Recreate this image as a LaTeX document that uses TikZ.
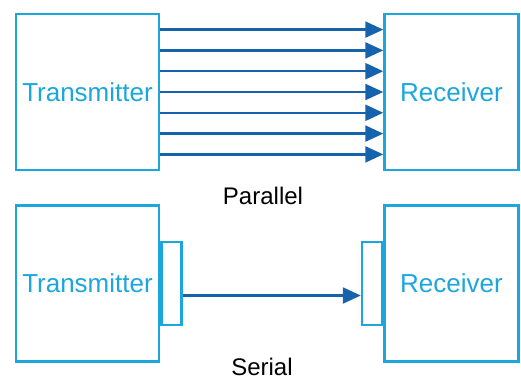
\documentclass[tikz,border=0pt]{standalone}
\usepackage{fontspec}
\setmainfont{Liberation Sans}
\usetikzlibrary{
  calc,positioning,
  arrows.meta
}
\definecolor{boxblue}{RGB}{27,166,222}
\definecolor{wireblue}{RGB}{22,98,172}

\begin{document}
\begin{tikzpicture}[x=1pt,y=-1pt,
  unit/.style={draw=boxblue,line width=2.5pt,text=boxblue,inner sep=0pt,
    font=\fontsize{26}{30}\selectfont,minimum width=143pt,minimum height=156pt},
  port/.style={draw=boxblue,line width=2.5pt,inner sep=0pt,
    minimum width=20pt,minimum height=83pt},
  wire/.style={wireblue,line width=2.4pt,-{Triangle[length=18pt,width=16pt]}},
  caption/.style={font=\fontsize{24}{28}\selectfont,inner sep=0pt}]
\useasboundingbox (0,0) rectangle (521,382);

% parallel
\node[unit] (ptx) at (87.5,92) {Transmitter};
\node[unit,minimum width=134pt] (prx) at (451.5,92) {Receiver};
\foreach \d in {-62.4,-41.6,-20.8,0,20.8,41.6,62.4}
  \draw[wire] ([yshift=\d pt]ptx.east) -- ([yshift=\d pt]prx.west);
\node[caption] (plabel) at (263,196) {Parallel};

% serial
\node[unit] (stx) at (87.5,283.5) {Transmitter};
\node[unit,minimum width=134pt] (srx) at (451.5,283.5) {Receiver};
\node[port,right=0pt of stx] (stxport) {};
\node[port,left=0pt of srx] (srxport) {};
\draw[wire] ([yshift=-12pt]stxport.east) -- ([yshift=-12pt]srxport.west);
\node[caption] (slabel) at (262,367) {Serial};
\end{tikzpicture}
\end{document}
